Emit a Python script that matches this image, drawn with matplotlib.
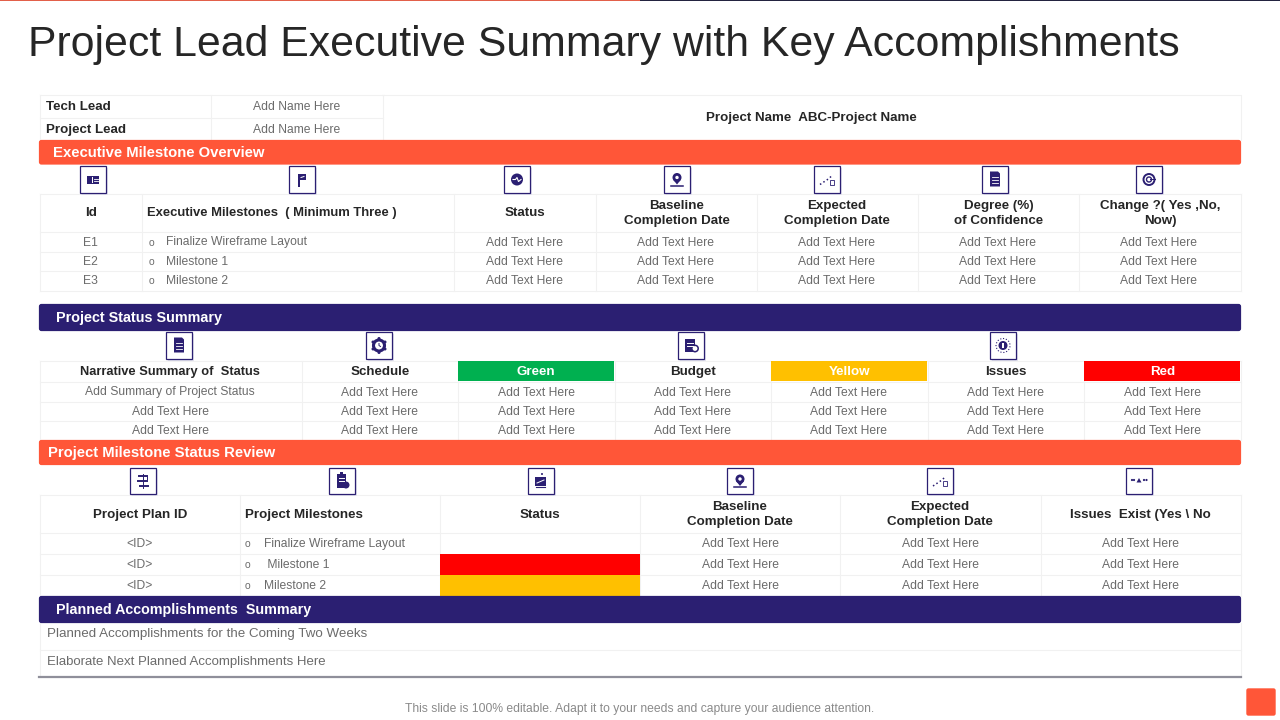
import matplotlib
matplotlib.use("Agg")
import matplotlib.pyplot as plt
from matplotlib.patches import Rectangle, FancyBboxPatch, Circle, Polygon

plt.rcParams['font.family'] = ['Liberation Sans', 'DejaVu Sans']

ORANGE = '#FF5638'; NAVY = '#2B1F72'; GREEN = '#00B050'; YELLOW = '#FFC000'; RED = '#FF0000'
GRID = '#F1F1F1'; BODY = '#6B6B6B'; HEAD = '#262626'

TITLE = 'Project Lead Executive Summary with Key Accomplishments'
FOOTER = 'This slide is 100% editable. Adapt it to your needs and capture your audience attention.'
ADD = 'Add Text Here'

lead_labels = ['Tech Lead', 'Project Lead']
lead_names = ['Add Name Here', 'Add Name Here']
project_name = 'Project Name  ABC-Project Name'

section_titles = ['Executive Milestone Overview', 'Project Status Summary',
                  'Project Milestone Status Review', 'Planned Accomplishments  Summary']

t1_headers = ['Id', 'Executive Milestones  ( Minimum Three )', 'Status', 'Baseline\nCompletion Date',
              'Expected\nCompletion Date', 'Degree (%)\nof Confidence', 'Change ?( Yes ,No,\nNow)']
t1_ids = ['E1', 'E2', 'E3']
t1_items = ['Finalize Wireframe Layout', 'Milestone 1', 'Milestone 2']

t2_headers = ['Narrative Summary of  Status', 'Schedule', 'Green', 'Budget', 'Yellow', 'Issues', 'Red']
t2_first = ['Add Summary of Project Status', ADD, ADD]

t3_headers = ['Project Plan ID', 'Project Milestones', 'Status', 'Baseline\nCompletion Date',
              'Expected\nCompletion Date', 'Issues  Exist (Yes \\ No']
t3_ids = ['<ID>', '<ID>', '<ID>']
t3_items = ['Finalize Wireframe Layout', ' Milestone 1', 'Milestone 2']

planned_rows = ['Planned Accomplishments for the Coming Two Weeks', 'Elaborate Next Planned Accomplishments Here']

# layout (pixels)
T1_X = [40, 142, 454, 596, 757, 918, 1079, 1241]; T1_Y = [194, 232, 252, 271, 291]
T2_X = [40, 302, 458, 615, 771, 928, 1084, 1241]; T2_Y = [361, 382, 402, 421, 440]
T3_X = [40, 240, 440, 640, 840, 1041, 1241];      T3_Y = [495, 533, 554, 575, 596]

fig = plt.figure(figsize=(12.8, 7.2), dpi=100, facecolor='white')
ax = fig.add_axes([0, 0, 1, 1])
ax.set_xlim(0, 1280); ax.set_ylim(720, 0); ax.axis('off')


def txt(x, y, s, size=8.7, color=BODY, weight='normal', ha='center', linespacing=1.3):
    return ax.text(x, y + 0.8, s, fontsize=size, color=color, fontweight=weight, ha=ha, va='center',
                   linespacing=linespacing, zorder=6)


def grid(xs, ys):
    for x in xs:
        ax.plot([x - 0.5, x - 0.5], [ys[0], ys[-1]], color=GRID, lw=0.8, zorder=1)
    for y in ys:
        ax.plot([xs[0], xs[-1]], [y - 0.5, y - 0.5], color=GRID, lw=0.8, zorder=1)


def bar(y0, y1, title, tx, color, size):
    ax.add_patch(FancyBboxPatch((40, y0 + 1), 1200, y1 - y0 - 2, boxstyle='round,pad=0,rounding_size=1.5',
                                mutation_aspect=1, fc=color, ec=color, lw=1.6, zorder=3))
    txt(tx, (y0 + y1) / 2 - 0.5, title, size=size, color='white', weight='bold', ha='left')


def cell(x0, x1, y0, y1, color):
    ax.add_patch(Rectangle((x0, y0), x1 - x0, y1 - y0, fc=color, ec='none', zorder=2))


def box(cx, y0, y1, kind):
    w = 26
    ax.add_patch(Rectangle((cx - w / 2 + 1.5, y0 + 1.5), w, y1 - y0, fc='#E3E3EE', ec='none', zorder=3))
    ax.add_patch(Rectangle((cx - w / 2, y0), w, y1 - y0, fc='white', ec=NAVY, lw=0.9, zorder=4))
    cy = (y0 + y1) / 2
    kw = dict(fc=NAVY, ec='none', zorder=5)
    def R(x, y, a, b, **k):
        d = dict(kw); d.update(k); ax.add_patch(Rectangle((cx + x, cy + y), a, b, **d))
    def C(x, y, r, **k):
        d = dict(kw); d.update(k); ax.add_patch(Circle((cx + x, cy + y), r, **d))
    def L(xs, ys, color=NAVY, lw=1.0, ls='-'):
        ax.plot([cx + v for v in xs], [cy + v for v in ys], color=color, lw=lw, ls=ls, zorder=6)
    if kind == 'card':
        R(-6, -4, 12, 8); R(-1, -3, 0.8, 6, fc='white'); L([1, 5], [-1, -1], 'white', .6); L([1, 5], [1, 1], 'white', .6)
    elif kind == 'flag':
        R(-4, -6, 1.6, 13); R(-3, -6, 7, 6.5); L([-1, 2], [-2, -3], 'white', .7)
    elif kind == 'pulse':
        C(0, 0, 6); L([-4, -1.5, 0, 1.5, 4], [0, 0, -2, 2, 0], 'white', .8)
    elif kind == 'pin':
        C(0, -2, 4.5); C(0, -2, 1.7, fc='white')
        ax.add_patch(Polygon([(cx - 4, cy), (cx + 4, cy), (cx, cy + 5)], **kw))
        L([-6, 6], [6, 6], lw=1.1)
    elif kind == 'dots':
        L([-7, -1, 2, 5], [5, 1, -1, -4], ls=':', lw=1.1)
        R(3, 0, 3.5, 5, fc='none', ec=NAVY, lw=.6)
    elif kind == 'doc':
        ax.add_patch(Polygon([(cx - 5, cy - 8), (cx + 3, cy - 8), (cx + 5, cy - 6), (cx + 5, cy + 7), (cx - 5, cy + 7)], **kw))
        for v in (-3, 0, 3):
            L([-3, 3], [v, v], 'white', .6)
    elif kind == 'target':
        C(0, 0, 5.5, fc='none', ec=NAVY, lw=1.4); C(0, 0, 2.5, fc='none', ec=NAVY, lw=1)
        R(1, -1, 6, 1.6)
    elif kind == 'gear':
        C(0, 0, 5.5, fc='none', ec=NAVY, lw=2.2)
        for dx, dy in [(0, -7), (0, 7), (-6, -3.5), (6, -3.5), (-6, 3.5), (6, 3.5)]:
            C(dx, dy, 1.5)
        C(0, 0, 3, fc='white'); L([0, 0, 1.5], [-2, 0, 1], lw=.7)
    elif kind == 'calc':
        R(-6, -7, 10, 13); L([-4, 2], [-3, -3], 'white', .7); L([-4, 2], [0, 0], 'white', .7)
        C(4, 3, 3.2, fc='white', ec=NAVY, lw=1.1)
    elif kind == 'alert':
        C(0, 0, 7, fc='none', ec=NAVY, lw=.8, ls=':'); C(0, 0, 4.5); R(-.6, -2.5, 1.3, 5, fc='white')
    elif kind == 'flow':
        L([-4, 4], [-5, -5], lw=1.4); L([-5, 3], [0, 0], lw=1.4); L([-3, 5], [5, 5], lw=1.4)
        L([0, 0], [-7, 7], lw=.7); L([4, 4], [-5, 0], lw=.7)
    elif kind == 'clip':
        R(-5, -7, 9, 14); R(-2, -9, 3, 3); C(4, 4, 3.5); L([-3, 2], [-3, -3], 'white', .7); L([-3, 2], [0, 0], 'white', .7)
    elif kind == 'screen':
        R(-6, -4, 11, 9); L([-4, 3], [2, -1], 'white', .7); C(1, -7, 1); L([-5, 4], [6, 6], lw=.8)
    elif kind == 'issues':
        ax.add_patch(Polygon([(cx - 2.5, cy + 1.5), (cx + 2.5, cy + 1.5), (cx, cy - 3)], **kw))
        for dx in (-7, -5, 5, 7.5):
            C(dx, -1, 1.1)


# top rules
ax.add_patch(Rectangle((0, 0), 640, 1.2, fc='#E2604A', ec='none'))
ax.add_patch(Rectangle((640, 0), 640, 1.2, fc='#232340', ec='none'))

txt(28, 44, TITLE, size=30.8, color='#262626', ha='left')

# lead block
grid([40, 211, 383], [95, 118, 140])
ax.plot([383, 1240.5, 1240.5], [94.5, 94.5, 140], color=GRID, lw=0.8, zorder=1)
for i, y in enumerate([106, 129]):
    txt(46, y, lead_labels[i], size=9.6, color=HEAD, weight='bold', ha='left')
    txt(297, y, lead_names[i], size=8.7)
txt(811.5, 117.5, project_name, size=9.6, color=HEAD, weight='bold')

# table 1
bar(140, 164.5, section_titles[0], 53, ORANGE, 10.7)
for cx, k in zip([93, 302, 517, 677, 827, 995, 1149], ['card', 'flag', 'pulse', 'pin', 'dots', 'doc', 'target']):
    box(cx, 166, 193, k)
grid(T1_X, T1_Y)
for i, h in enumerate(t1_headers):
    if i == 1:
        txt(147, 212.5, h, size=9.4, color=HEAD, weight='bold', ha='left')
    else:
        txt((T1_X[i] + T1_X[i + 1]) / 2 - (1 if i == 4 else 0), 212.5, h, size=9.6, color=HEAD, weight='bold')
for r in range(3):
    y = (T1_Y[r + 1] + T1_Y[r + 2]) / 2 - 0.3
    txt(90, y, t1_ids[r])
    txt(149, y, 'o', size=7.5, ha='left')
    txt(166, y, t1_items[r], ha='left')
    for c in range(2, 7):
        txt((T1_X[c] + T1_X[c + 1]) / 2 - 1 if c > 2 else 525, y, ADD)

# table 2
bar(304, 331, section_titles[1], 56, NAVY, 10.4)
for cx, k in zip([179, 379, 691, 1003], ['doc', 'gear', 'calc', 'alert']):
    box(cx, 332, 359, k)
grid(T2_X, T2_Y)
for c, color in zip([2, 4, 6], [GREEN, YELLOW, RED]):
    cell(T2_X[c], T2_X[c + 1] - 1, T2_Y[0], T2_Y[1] - 1, color)
for i, h in enumerate(t2_headers):
    coloured = i in (2, 4, 6)
    txt((T2_X[i] + T2_X[i + 1]) / 2 - (1 if i in (0, 2) else 0), 371.5, h, size=9.3 if i == 0 else 9.6,
        color='white' if coloured else HEAD, weight='bold')
for r in range(3):
    y = (T2_Y[r + 1] + T2_Y[r + 2]) / 2 - 0.3
    txt(170, y, t2_first[r])
    for c in range(1, 7):
        txt((T2_X[c] + T2_X[c + 1]) / 2 - 0.5, y, ADD)

# table 3
bar(440, 465, section_titles[2], 48, ORANGE, 10.7)
for cx, k in zip([143, 342, 541, 740, 940, 1139], ['flow', 'clip', 'screen', 'pin', 'dots', 'issues']):
    box(cx, 468, 494, k)
grid(T3_X, T3_Y)
cell(T3_X[2], T3_X[3], T3_Y[2], T3_Y[3], RED)
cell(T3_X[2], T3_X[3], T3_Y[3], T3_Y[4], YELLOW)
for i, h in enumerate(t3_headers):
    if i == 1:
        txt(245, 514, h, size=9.6, color=HEAD, weight='bold', ha='left')
    else:
        txt((T3_X[i] + T3_X[i + 1]) / 2 - (1 if i >= 4 else 0), 514, h, size=9.6, color=HEAD, weight='bold')
for r in range(3):
    y = (T3_Y[r + 1] + T3_Y[r + 2]) / 2
    txt(140, y, t3_ids[r])
    txt(245, y, 'o', size=7.5, ha='left')
    txt(264, y, t3_items[r], ha='left')
    for c in range(3, 6):
        txt((T3_X[c] + T3_X[c + 1]) / 2, y - 0.5, ADD)

# planned accomplishments
bar(596, 623, section_titles[3], 56, NAVY, 10.3)
ax.plot([39.5, 39.5], [623, 677], color=GRID, lw=0.8); ax.plot([1240.5, 1240.5], [623, 677], color=GRID, lw=0.8)
ax.plot([40, 1241], [649.5, 649.5], color=GRID, lw=0.8)
ax.plot([39, 1241], [677, 677], color='#8F8F9A', lw=1.6)
txt(47, 633, planned_rows[0], size=9.6, ha='left')
txt(47, 661, planned_rows[1], size=9.5, ha='left')

# footer
txt(640, 708, FOOTER, size=8.7, color='#8A8A8A')
ax.add_patch(FancyBboxPatch((1247, 689), 28, 26, boxstyle='round,pad=0,rounding_size=1.5',
                            fc=ORANGE, ec=ORANGE, lw=1.0))

fig.savefig('out.png', dpi=100)
